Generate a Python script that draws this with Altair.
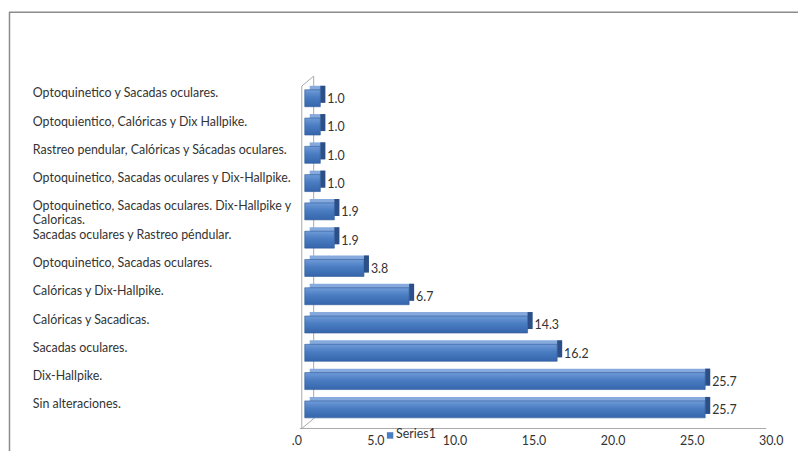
import altair as alt
import pandas as pd

categories = [
    "Optoquinetico y Sacadas oculares.",
    "Optoquientico, Calóricas y Dix Hallpike.",
    "Rastreo pendular, Calóricas y Sácadas oculares.",
    "Optoquinetico, Sacadas oculares y Dix-Hallpike.",
    "Optoquinetico, Sacadas oculares. Dix-Hallpike y\n\u2002Caloricas.",
    "Sacadas oculares y Rastreo péndular.",
    "Optoquinetico, Sacadas oculares.",
    "Calóricas y Dix-Hallpike.",
    "Calóricas y Sacadicas.",
    "Sacadas oculares.",
    "Dix-Hallpike.",
    "Sin alteraciones.",
]
values = [1.0, 1.0, 1.0, 1.0, 1.9, 1.9, 3.8, 6.7, 14.3, 16.2, 25.7, 25.7]
tick_values = [0, 5, 10, 15, 20, 25, 30]
tick_labels = [".0", "5.0", "10.0", "15.0", "20.0", "25.0", "30.0"]
series_name = "Series1"

df = pd.DataFrame({"cat": categories, "val": values,
                   "lab": [f"{v:.1f}" for v in values]})
ticks = pd.DataFrame({"t": tick_values, "l": tick_labels})
leg = pd.DataFrame({"s": [series_name]})

FONT = "Lato"
FS = 12.5
TXT = "#333333"

xs = alt.Scale(domain=[0, 30], range=[0, 471], nice=False)
ys = alt.Scale(paddingInner=0.4, paddingOuter=0.2)
X = alt.X("val:Q", scale=xs, axis=None)
Y = alt.Y("cat:N", sort=categories, scale=ys, axis=None)

base = alt.Chart(df)

top_face = base.mark_bar(color="#86AADD", xOffset=5, x2Offset=5, yOffset=-4).encode(
    x=X, x2=alt.datum(0), y=Y)
side_face = base.mark_bar(color="#2B4F86", x2Offset=5, yOffset=-4).encode(
    x=X, x2="val:Q", y=Y)
front = base.mark_bar(
    color=alt.Gradient(gradient="linear", x1=0, x2=0, y1=0, y2=1,
                       stops=[alt.GradientStop(color="#6F9BD8", offset=0),
                              alt.GradientStop(color="#4A7CC2", offset=0.45),
                              alt.GradientStop(color="#3566AB", offset=1)]),
    stroke="#2F5A97", strokeWidth=0.6).encode(x=X, y=Y)

val_text = base.mark_text(align="left", baseline="middle", dx=7, dy=1, font=FONT,
                          fontSize=FS, color=TXT).encode(x=X, y=Y, text="lab:N")
cat_text = base.mark_text(align="left", baseline="top", dy=-11, font=FONT,
                          fontSize=FS, color=TXT, lineBreak="\n",
                          lineHeight=14).encode(
    x=alt.value(-274), y=Y, text="cat:N")

LINE = "#A8A8A8"
def seg(x1, y1, x2, y2, color=LINE, w=1):
    return alt.Chart(leg).mark_rule(color=color, strokeWidth=w).encode(
        x=alt.value(x1), y=alt.value(y1), x2=alt.value(x2), y2=alt.value(y2))

frame = [
    seg(-3, 2, -3, 347), seg(9, -8, 9, 337), seg(-3, 2, 9, -8),
    seg(-3, 347, 9, 337), seg(-5, 347, 465, 347),
    seg(-297.5, -73, -297.5, 370, "#8C8C8C", 1.5),
    seg(-297.5, -72.5, 500, -72.5, "#8C8C8C", 1.5),
]

tick_text = alt.Chart(ticks).mark_text(font=FONT, fontSize=FS, color=TXT,
                                       baseline="middle").encode(
    x=alt.X("t:Q", scale=alt.Scale(domain=[0, 30], range=[-8, 470], nice=False),
            axis=None),
    y=alt.value(360), text="l:N")

leg_sym = alt.Chart(leg).mark_square(size=42, color="#4A7CC2", opacity=1).encode(
    x=alt.value(86), y=alt.value(354))
leg_txt = alt.Chart(leg).mark_text(align="left", baseline="middle", font=FONT,
                                   fontSize=FS, color=TXT).encode(
    x=alt.value(92), y=alt.value(353), text="s:N")

chart = alt.layer(*frame, top_face, side_face, front, val_text, cat_text,
                  tick_text, leg_sym, leg_txt).resolve_scale(
    x="independent").properties(
    width=471, height=342,
    background="white",
    autosize=alt.AutoSizeParams(type="none"),
    padding={"left": 299, "top": 75, "right": 26, "bottom": 26},
).configure_view(stroke="transparent", strokeWidth=0)

chart.save("out.html", embed_options={"renderer": "svg", "actions": False})
